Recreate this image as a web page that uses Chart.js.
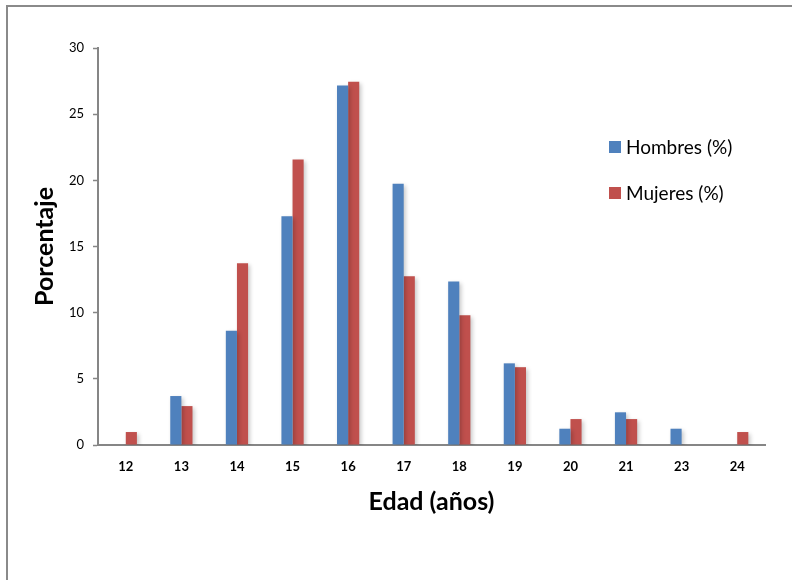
<!DOCTYPE html>
<html>
<head>
<meta charset="utf-8">
<title>Edad por sexo</title>
<script src="https://cdn.jsdelivr.net/npm/chart.js@4"></script>
<style>
  html, body { margin: 0; padding: 0; background: #ffffff; }
  #wrap { width: 792px; height: 580px; }
</style>
</head>
<body>
<div id="wrap"><canvas id="chart" width="792" height="580"></canvas></div>
<script>
// Edades (años)
const categories = ['12', '13', '14', '15', '16', '17', '18', '19', '20', '21', '23', '24'];
// Porcentaje por edad
const hombres = [0, 3.70, 8.64, 17.28, 27.16, 19.75, 12.35, 6.17, 1.23, 2.47, 1.23, 0];
const mujeres = [0.98, 2.94, 13.73, 21.57, 27.45, 12.75, 9.80, 5.88, 1.96, 1.96, 0, 0.98];
const yTicks = [0, 5, 10, 15, 20, 25, 30];

const FONT = 'Lato, "Liberation Sans", sans-serif';
const AXIS_GREY = '#868686';

// Frame line along the top and left edges of the chart object
const framePlugin = {
  id: 'frame',
  beforeDraw(chart) {
    const ctx = chart.ctx;
    ctx.save();
    ctx.fillStyle = '#ffffff';
    ctx.fillRect(0, 0, chart.width, chart.height);
    ctx.strokeStyle = '#8a8a8a';
    ctx.lineWidth = 2;
    ctx.beginPath();
    ctx.moveTo(chart.width, 6);
    ctx.lineTo(7, 6);
    ctx.lineTo(7, chart.height);
    ctx.stroke();
    ctx.restore();
  }
};

// Soft drop shadow under the bars
const shadowPlugin = {
  id: 'barShadow',
  beforeDatasetsDraw(chart) {
    const ctx = chart.ctx;
    ctx.save();
    ctx.shadowColor = 'rgba(0,0,0,0.22)';
    ctx.shadowBlur = 4;
    ctx.shadowOffsetX = 2;
    ctx.shadowOffsetY = 2;
  },
  afterDatasetsDraw(chart) {
    chart.ctx.restore();
  }
};

// Legend drawn inside the plot area, to the right
const legendPlugin = {
  id: 'insideLegend',
  afterDraw(chart) {
    const ctx = chart.ctx;
    const x = 609, ys = [147, 193];
    ctx.save();
    ctx.font = '19px ' + FONT;
    ctx.textBaseline = 'middle';
    ctx.textAlign = 'left';
    chart.data.datasets.forEach((ds, i) => {
      ctx.fillStyle = ds.backgroundColor;
      ctx.fillRect(x, ys[i] - 6, 12, 12);
      ctx.fillStyle = '#000000';
      ctx.fillText(ds.label, x + 17, ys[i] + 1);
    });
    ctx.restore();
  }
};

new Chart(document.getElementById('chart'), {
  type: 'bar',
  data: {
    labels: categories,
    datasets: [
      { label: 'Hombres (%)', data: hombres, backgroundColor: '#4F81BD' },
      { label: 'Mujeres (%)', data: mujeres, backgroundColor: '#C0504D' }
    ]
  },
  options: {
    responsive: false,
    animation: false,
    devicePixelRatio: 1,
    layout: { padding: { left: 0, top: 48, right: 27, bottom: 0 } },
    datasets: { bar: { categoryPercentage: 0.4, barPercentage: 1.0 } },
    plugins: {
      legend: { display: false },
      tooltip: { enabled: false }
    },
    scales: {
      x: {
        grid: { display: false, drawTicks: false },
        border: { color: AXIS_GREY, width: 2 },
        ticks: { color: '#000000', font: { family: FONT, size: 13, weight: 'bold' }, padding: 14, maxRotation: 0 },
        title: {
          display: true,
          text: 'Edad (años)',
          color: '#000000',
          font: { family: FONT, size: 25, weight: 'bold' },
          padding: { top: 0, bottom: 63 }
        },
        afterFit(scale) { scale.height = 135; }
      },
      y: {
        min: 0,
        max: 30,
        afterBuildTicks(scale) { scale.ticks = yTicks.map(v => ({ value: v })); },
        grid: { display: true, drawOnChartArea: false, drawTicks: true, tickLength: 5, tickColor: AXIS_GREY, tickWidth: 1.5 },
        border: { color: AXIS_GREY, width: 2 },
        ticks: { color: '#000000', font: { family: FONT, size: 13 }, padding: 9 },
        title: {
          display: true,
          text: 'Porcentaje',
          color: '#000000',
          font: { family: FONT, size: 25, weight: 'bold' },
          padding: { top: 30, bottom: 0 }
        },
        afterFit(scale) { scale.width = 98; }
      }
    }
  },
  plugins: [framePlugin, shadowPlugin, legendPlugin]
});
</script>
</body>
</html>
